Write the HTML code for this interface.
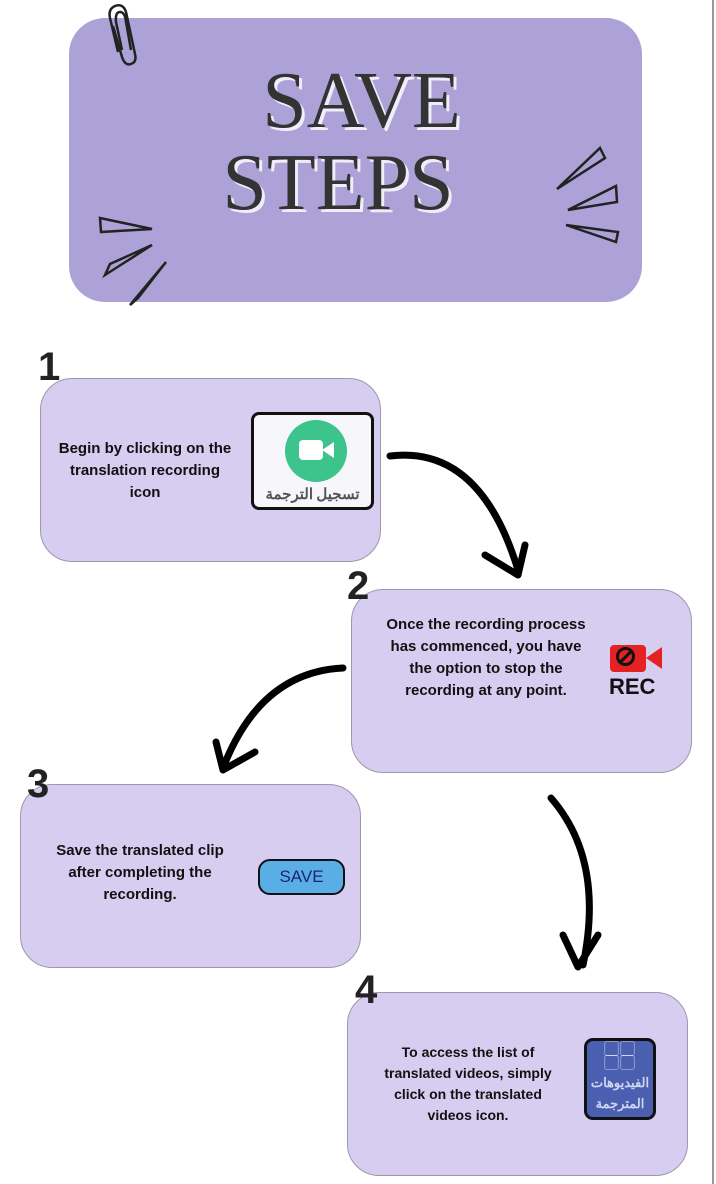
<!DOCTYPE html><html><head><meta charset="utf-8"><style>
body{margin:0;width:716px;height:1184px;position:relative;background:#fff;font-family:"Liberation Sans","Noto Sans CJK SC",sans-serif;overflow:hidden}
.b{position:absolute;background:#d6cdf0;border:1px solid #9d98ab;border-radius:32px;box-sizing:border-box}
.t{position:absolute;text-align:center;font-weight:bold;font-size:15px;line-height:22px;color:#111}
.n{position:absolute;font-weight:bold;font-size:40px;color:#222;font-family:"Liberation Sans",sans-serif}
</style></head><body>
<div style="position:absolute;left:712px;top:0;width:2px;height:1184px;background:#999"></div>
<div style="position:absolute;left:69px;top:18px;width:573px;height:284px;background:#ada2d7;border-radius:36px"></div>
<div style="position:absolute;left:0;top:60px;width:716px;text-align:center;font-family:'Liberation Serif',serif;font-size:80px;line-height:82px;color:#333;text-shadow:3px 3px 0 #f0ecfa">
<div style="padding-left:7px">SAVE</div><div style="margin-left:-40px">STEPS</div></div>
<svg style="position:absolute;left:0;top:0" width="716" height="320" fill="none" stroke="#222" stroke-width="2.5">
<path d="M122 50 L116 22 Q115 12 120 12 Q125 12 126 22 L131 50"/>
<path d="M113 26 L122 57 Q125 66 131 64 Q137 62 135 54 L126 12 Q123 3 115 6 Q108 9 110 18 L118 52"/>
<polygon points="100,218 152,229 101,232"/><polygon points="105,275 152,245 110,264"/><polygon points="130,305 166,262 138,298"/>
<polygon points="557,189 600,148 605,158"/><polygon points="568,210 616,186 617,202"/><polygon points="566,225 618,232 616,242"/>
</svg>
<div class="b" style="left:40px;top:378px;width:341px;height:184px"></div>
<div class="t" style="left:55px;top:438px;width:180px">Begin by clicking on the translation recording icon</div>
<div style="position:absolute;left:251px;top:412px;width:123px;height:98px;box-sizing:border-box;border:3px solid #111;border-radius:8px;background:#f7f7fb">
<div style="position:absolute;left:31px;top:5px;width:62px;height:62px;border-radius:50%;background:#3dc48c"></div>
<div style="position:absolute;left:45px;top:25px;width:24px;height:20px;background:#fff;border-radius:4px"></div>
<div style="position:absolute;left:68px;top:27px;width:0;height:0;border-top:8px solid transparent;border-bottom:8px solid transparent;border-right:12px solid #fff"></div>
<div style="position:absolute;left:0;top:68px;width:117px;text-align:center;font-size:15px;color:#555;font-weight:bold;font-family:'Noto Sans CJK SC',sans-serif">تسجيل الترجمة</div></div>
<div class="b" style="left:351px;top:589px;width:341px;height:184px"></div>
<div class="t" style="left:380px;top:614px;width:212px">Once the recording process has commenced, you have the option to stop the recording at any point.</div>
<div style="position:absolute;left:610px;top:645px;width:36px;height:27px;background:#e52222;border-radius:4px"></div>
<div style="position:absolute;left:616px;top:647px;width:19px;height:19px;border:3px solid #111;border-radius:50%;box-sizing:border-box"></div>
<div style="position:absolute;left:619px;top:655px;width:14px;height:3px;background:#111;transform:rotate(-45deg)"></div>
<div style="position:absolute;left:646px;top:647px;width:0;height:0;border-top:11px solid transparent;border-bottom:11px solid transparent;border-right:16px solid #e52222"></div>
<div style="position:absolute;left:609px;top:674px;font-weight:bold;font-size:22px;color:#111">REC</div>
<div class="b" style="left:20px;top:784px;width:341px;height:184px"></div>
<div class="t" style="left:40px;top:840px;width:200px">Save the translated clip after completing the recording.</div>
<div style="position:absolute;left:258px;top:859px;width:87px;height:36px;box-sizing:border-box;border:2.5px solid #111;border-radius:12px;background:#5aaee6;text-align:center;line-height:31px;font-size:17px;color:#1a237e">SAVE</div>
<div class="b" style="left:347px;top:992px;width:341px;height:184px"></div>
<div class="t" style="left:370px;top:1042px;width:196px;font-size:14px;line-height:21px">To access the list of translated videos, simply click on the translated videos icon.</div>
<div style="position:absolute;left:584px;top:1038px;width:72px;height:82px;box-sizing:border-box;border:3px solid #111;border-radius:9px;background:#4a5fb0;color:#cfd6f2;text-align:center">
<div style="font-size:15px;line-height:14px;letter-spacing:1px;margin-top:2px">▢▢<br>▢▢</div>
<div style="font-size:13px;line-height:21px;font-weight:bold;font-family:'Noto Sans CJK SC',sans-serif">الفيديوهات<br>المترجمة</div></div>
<div class="n" style="left:38px;top:345px">1</div>
<div class="n" style="left:347px;top:564px">2</div>
<div class="n" style="left:27px;top:762px">3</div>
<div class="n" style="left:355px;top:968px">4</div>
<svg style="position:absolute;left:0;top:0" width="716" height="1184" fill="none" stroke="#000" stroke-width="7" stroke-linecap="round" stroke-linejoin="round">
<path d="M390 456 Q480 445 518 570"/><path d="M485 555 L518 575 L525 545"/>
<path d="M343 668 Q260 672 223 768"/><path d="M216 742 L223 770 L255 752"/>
<path d="M551 798 Q605 860 583 965"/><path d="M563 935 L578 967 L598 935"/>
</svg>
</body></html>
